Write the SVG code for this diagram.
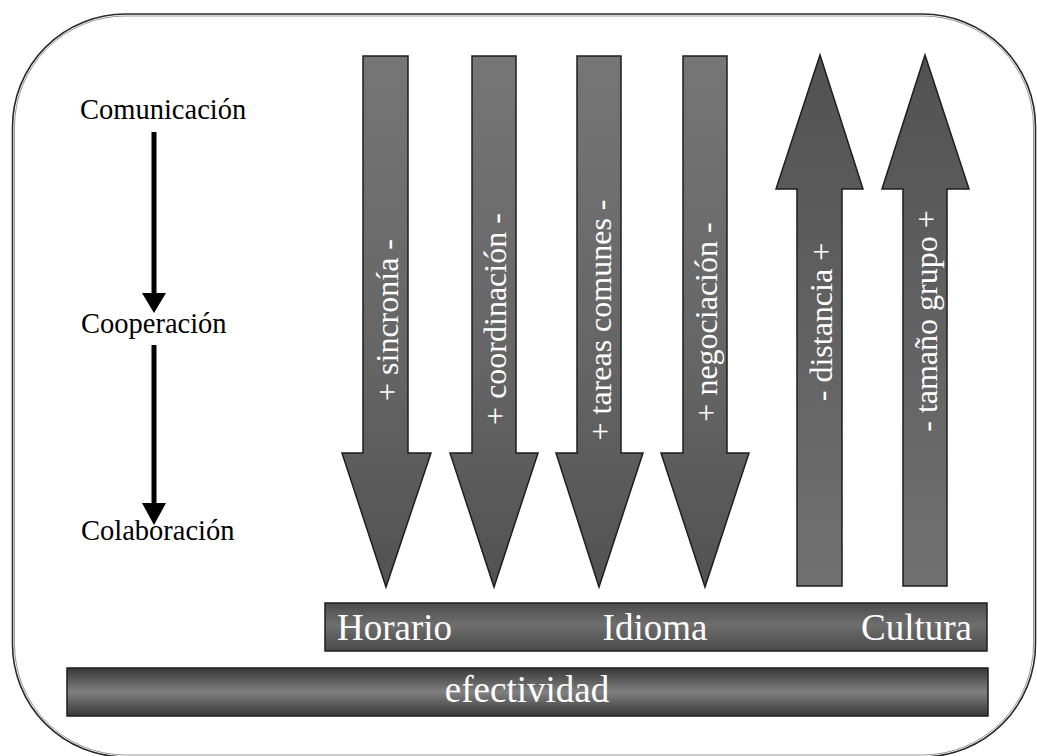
<svg xmlns="http://www.w3.org/2000/svg" width="1037" height="756" viewBox="0 0 1037 756">
  <style>
    .frame { fill: #ffffff; stroke: #2a2a2a; stroke-width: 1.6; }
    .frame-inner { fill: none; stroke: #9a9a9a; stroke-width: 1; }
    .stage { font-family: "Liberation Serif", "Times New Roman", serif; font-size: 28.5px; fill: #000000; }
    .link { stroke: #000000; stroke-width: 5; fill: none; }
    .arrow-down { fill: url(#gradDown); stroke: #1e1e1e; stroke-width: 1.5; stroke-linejoin: miter; }
    .arrow-up { fill: url(#gradUp); stroke: #1e1e1e; stroke-width: 1.5; stroke-linejoin: miter; }
    .factor { font-family: "Liberation Serif", "Times New Roman", serif; font-size: 32px; fill: #ffffff; text-anchor: middle; }
    .bar { stroke: #1e1e1e; stroke-width: 1.5; }
    .bar-label { font-family: "Liberation Serif", "Times New Roman", serif; font-size: 37px; fill: #ffffff; }
  </style>
  <defs>
    <linearGradient id="gradDown" x1="0" y1="0" x2="0" y2="1">
      <stop offset="0" stop-color="#767676"/>
      <stop offset="0.6" stop-color="#646464"/>
      <stop offset="1" stop-color="#525252"/>
    </linearGradient>
    <linearGradient id="gradUp" x1="0" y1="0" x2="0" y2="1">
      <stop offset="0" stop-color="#525252"/>
      <stop offset="0.4" stop-color="#5e5e5e"/>
      <stop offset="1" stop-color="#717171"/>
    </linearGradient>
    <linearGradient id="gradBand" x1="0" y1="0" x2="0" y2="1">
      <stop offset="0" stop-color="#4c4c4c"/>
      <stop offset="0.45" stop-color="#6e6e6e"/>
      <stop offset="1" stop-color="#4a4a4a"/>
    </linearGradient>
    <linearGradient id="gradTube" x1="0" y1="0" x2="0" y2="1">
      <stop offset="0" stop-color="#383838"/>
      <stop offset="0.5" stop-color="#808080"/>
      <stop offset="1" stop-color="#383838"/>
    </linearGradient>
  </defs>

  <!-- rounded outer frame -->
  <rect class="frame" x="12.5" y="14" width="1023" height="743" rx="113" ry="113"/>
  <rect class="frame-inner" x="14.5" y="16" width="1019" height="739" rx="111" ry="111"/>

  <!-- progression stages on the left -->
  <g id="stage-comunicacion">
    <text class="stage" x="80" y="119">Comunicación</text>
  </g>
  <g id="stage-cooperacion">
    <text class="stage" x="81" y="333">Cooperación</text>
  </g>
  <g id="stage-colaboracion">
    <text class="stage" x="81" y="540">Colaboración</text>
  </g>

  <g id="connectors">
    <path class="link" d="M154,132 V293"/>
    <path d="M142,293 L166,293 L154,313 Z" fill="#000000"/>
    <path class="link" d="M154,345 V505"/>
    <path d="M142,503 L166,503 L154,525 Z" fill="#000000"/>
  </g>

  <!-- downward factor arrows -->
  <g id="arrow-sincronia">
    <path class="arrow-down" d="M363,56 H408 V453 H431 L386,587 L342,453 H363 Z"/>
    <text class="factor" transform="translate(398,320) rotate(-90)">+ sincronía -</text>
  </g>
  <g id="arrow-coordinacion">
    <path class="arrow-down" d="M472,56 H516 V453 H538 L494,587 L450,453 H472 Z"/>
    <text class="factor" transform="translate(506,319) rotate(-90)">+ coordinación -</text>
  </g>
  <g id="arrow-tareas">
    <path class="arrow-down" d="M577,56 H621 V453 H643 L599,587 L556,453 H577 Z"/>
    <text class="factor" transform="translate(611,320) rotate(-90)">+ tareas comunes -</text>
  </g>
  <g id="arrow-negociacion">
    <path class="arrow-down" d="M683,56 H727 V453 H749 L705,587 L661,453 H683 Z"/>
    <text class="factor" transform="translate(717,322) rotate(-90)">+ negociación -</text>
  </g>

  <!-- upward factor arrows -->
  <g id="arrow-distancia">
    <path class="arrow-up" d="M820,55 L863,189 H842 V586 H797 V189 H776 Z"/>
    <text class="factor" transform="translate(832,322) rotate(-90)">- distancia +</text>
  </g>
  <g id="arrow-tamano">
    <path class="arrow-up" d="M925,55 L969,189 H947 V586 H903 V189 H882 Z"/>
    <text class="factor" transform="translate(937,321) rotate(-90)">- tamaño grupo +</text>
  </g>

  <!-- barrier band -->
  <g id="band-barreras">
    <rect class="bar" x="325" y="603" width="662" height="48" fill="url(#gradBand)"/>
    <text class="bar-label" x="337" y="640">Horario</text>
    <text class="bar-label" x="655" y="640" text-anchor="middle">Idioma</text>
    <text class="bar-label" x="972" y="640" text-anchor="end">Cultura</text>
  </g>

  <!-- effectiveness band -->
  <g id="band-efectividad">
    <rect class="bar" x="67" y="668" width="921" height="48" fill="url(#gradTube)"/>
    <text class="bar-label" x="527" y="702" text-anchor="middle">efectividad</text>
  </g>
</svg>
